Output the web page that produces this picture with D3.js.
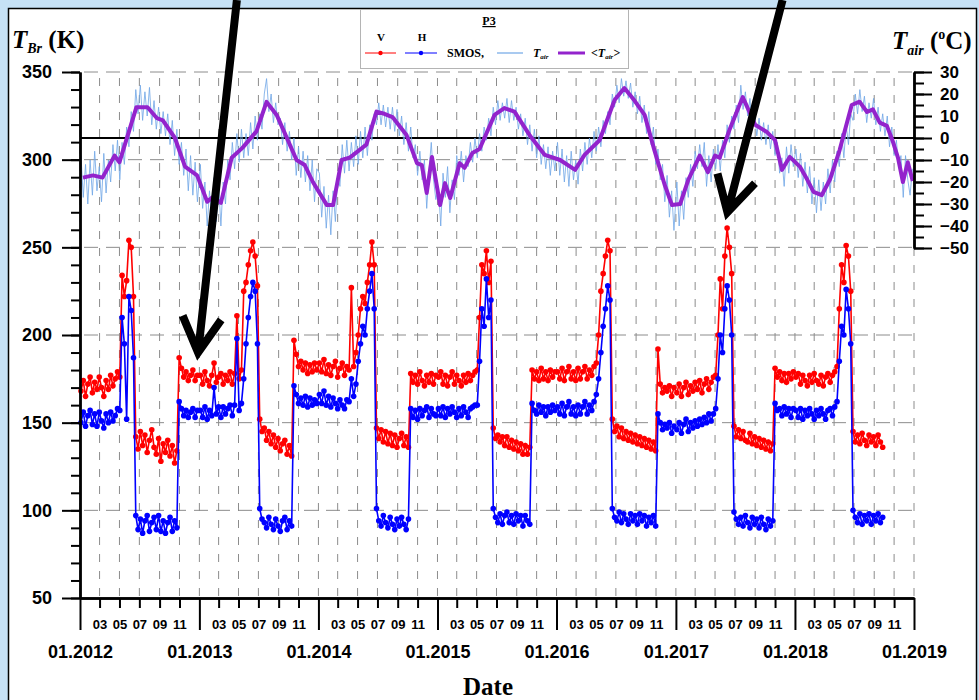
<!DOCTYPE html>
<html>
<head>
<meta charset="utf-8">
<script src="https://cdn.jsdelivr.net/npm/d3@7"></script>
<style>
  body { margin: 0; background: #c6e1f6; }
  svg { display: block; font-family: "Liberation Sans", Arial, sans-serif; }
</style>
</head>
<body>
<svg id="chart" width="979" height="700"></svg>
<script>
// years covered, one row of weekly values per year (week i = 4 Jan + 7*i days)
const years = [2012, 2013, 2014, 2015, 2016, 2017, 2018]

// SMOS brightness temperature, V polarisation (K)
const vWeekly = [
  [168,174,165,172,176,167,173,169,176,170,165,174,169,177,171,175,179,176,234,222,231,254,250,222,142,135,145,137,143,133,140,146,136,132,141,128,138,133,140,131,137,127,134,187,181,176,179,174,177,180,174,177],
  [177,172,179,174,171,177,184,173,176,178,172,177,174,179,172,178,211,175,180,225,230,240,248,253,245,228,152,145,147,140,145,138,143,136,141,134,138,140,132,137,131,197,189,182,185,180,184,178,183,179,184,180],
  [184,179,186,178,183,177,182,185,176,181,184,177,182,180,227,182,190,200,215,222,218,230,240,253,240,147,141,146,139,145,138,144,137,143,136,141,144,137,142,136,178,173,177,172,179,174,171,177,173,178,172,177],
  [176,179,172,177,171,176,179,172,177,174,171,177,173,178,174,177,179,180,210,240,235,248,230,242,147,141,143,139,142,137,142,136,140,135,139,134,138,132,137,132,136,180,175,179,174,181,175,179,174,180,176,179],
  [179,175,181,174,179,182,175,179,174,181,175,179,182,175,180,177,182,184,200,225,235,245,254,248,152,145,148,142,147,141,145,140,144,139,143,138,142,137,141,136,140,135,139,134,192,172,167,170,168,171,165,170],
  [167,172,165,170,173,166,171,168,173,169,174,167,172,175,169,173,176,177,200,232,215,245,261,250,235,148,142,146,141,145,140,139,144,138,142,137,141,136,140,135,139,134,138,181,176,179,174,178,173,178,175,179],
  [176,178,172,177,174,171,177,173,178,174,172,177,171,176,178,173,177,179,182,215,240,230,251,245,225,145,139,143,138,144,140,137,143,139,142,137,143,139,136]
]

// SMOS brightness temperature, H polarisation (K)
const hWeekly = [
  [150,156,148,154,157,149,155,148,156,151,147,155,150,156,151,154,158,157,210,195,152,222,214,187,97,89,95,87,94,97,88,93,96,89,97,88,94,87,93,96,88,94,90,162,158,154,157,153,156,158,153,157],
  [157,153,159,152,157,154,170,155,159,153,159,155,158,160,154,160,198,157,161,175,195,210,222,230,225,195,101,95,93,90,96,92,89,95,91,88,94,96,89,94,91,171,166,161,164,160,165,159,164,160,163,161],
  [166,161,168,160,165,159,164,161,158,163,160,158,163,162,175,165,172,185,195,205,200,215,225,235,215,101,94,91,97,93,90,96,92,89,95,91,96,92,89,95,158,153,157,152,158,154,157,159,153,158,155,154],
  [158,154,159,153,158,155,159,156,153,158,154,159,156,153,158,159,160,160,185,215,205,232,210,220,101,96,93,98,92,97,99,93,97,92,98,94,97,91,97,94,92,161,157,155,160,156,159,154,159,156,160,157],
  [159,155,161,154,159,162,155,159,154,160,155,159,162,155,160,157,162,166,175,190,205,215,228,220,101,96,94,99,93,98,95,92,98,94,97,92,98,94,97,91,96,93,97,91,155,150,146,149,147,150,144,148],
  [146,150,144,149,152,145,150,147,151,148,152,149,153,150,155,151,155,158,175,200,190,215,228,220,200,99,95,92,96,91,97,93,90,96,92,95,90,96,92,89,95,91,94,161,157,158,154,159,155,158,153,158],
  [157,153,158,152,157,154,158,155,152,157,154,158,155,152,157,158,154,159,162,185,205,200,226,215,195,100,96,93,98,92,97,94,98,92,97,94,98,93,96]
]

// air temperature (deg C)
const tairWeekly = [
  [-8,-27,-12,-30,-10,-26,-6,-24,-13,-29,-7,-25,-10,-20,-3,-15,-1,-19,-2,-12,5,-4,12,3,22,11,24,8,21,10,23,6,17,4,14,2,12,1,11,-3,8,-8,4,-12,-2,-17,-5,-24,-8,-26,-11,-29],
  [-12,-32,-20,-40,-24,-36,-18,-38,-21,-40,-20,-30,-10,-19,-2,-14,2,-11,4,-9,2,-8,7,-5,10,-1,11,4,20,27,12,20,7,16,6,9,-3,7,-6,3,-10,0,-17,-4,-18,-6,-20,-8,-24,-10,-29,-14],
  [-16,-36,-22,-41,-26,-44,-24,-38,-17,-22,-3,-16,-1,-15,-2,-13,1,-12,3,-9,5,-8,6,-1,11,6,16,6,15,5,14,4,14,3,13,1,10,-3,7,-6,5,-9,-3,-17,-6,-19,-10,-32,-15,-2,-19,-28],
  [-22,-40,-16,-27,-13,-34,-19,-28,-8,-17,-6,-20,-8,-13,-2,-11,0,-9,2,-6,5,-1,9,1,14,6,17,8,16,9,18,7,17,8,14,4,11,1,9,-3,6,-6,4,-9,1,-12,-3,-14,-4,-17,-6,-15],
  [-2,-17,-5,-20,-8,-22,-6,-19,-10,-21,-5,-15,-2,-12,0,-9,3,-6,5,-4,8,2,12,6,20,14,24,16,27,19,26,18,25,14,21,11,19,7,15,2,12,-3,5,-12,-5,-19,-12,-29,-17,-36,-24,-42],
  [-20,-40,-24,-37,-18,-27,-12,-22,-6,-14,-3,-13,-2,-22,-8,-20,-5,-14,-3,-15,-1,-9,6,-2,10,4,15,7,24,13,21,10,18,4,12,1,9,-1,7,-3,6,-5,3,-8,-2,-16,-9,-22,-4,-16,-3,-13],
  [-5,-18,-7,-22,-11,-25,-13,-30,-18,-34,-19,-33,-20,-30,-14,-25,-10,-20,-6,-13,2,-9,6,-3,11,8,20,11,22,12,19,7,16,9,18,6,14,3,11,1,10,-4,5,-8,-1,-13,-8,-27,-8,-19,-26,-14]
]

// smoothed air temperature <Tair> (deg C)
const tairMean = [
  ["2012-01-10",-18],["2012-02-10",-17],["2012-03-10",-18],["2012-04-16",-8],["2012-05-01",-11],
  ["2012-06-22",14],["2012-07-26",14],["2012-08-24",9],["2012-09-11",8],["2012-10-18",0],
  ["2012-11-18",-13],["2012-12-25",-17],["2013-01-25",-29],["2013-02-10",-27],["2013-03-08",-29.5],
  ["2013-04-10",-9],["2013-05-13",-4.5],["2013-06-25",3],["2013-07-26",16.4],["2013-08-26",10.5],
  ["2013-10-26",-10],["2013-11-20",-12.3],["2013-12-15",-20],["2014-01-27",-30.5],["2014-02-15",-30.5],
  ["2014-03-13",-10],["2014-04-06",-9],["2014-05-28",-3],["2014-06-28",12],["2014-07-22",11],
  ["2014-08-16",9.5],["2014-09-28",1.4],["2014-10-30",-11.4],["2014-11-14",-12.3],["2014-11-29",-25],
  ["2014-12-15",-8.6],["2015-01-09",-30.5],["2015-01-24",-20.5],["2015-02-09",-27.3],["2015-03-10",-11.4],
  ["2015-03-25",-13.6],["2015-04-18",-6.8],["2015-05-10",-5],["2015-06-25",10.5],["2015-07-25",13.6],
  ["2015-08-25",12],["2015-10-10",1.4],["2015-11-26",-7.7],["2016-01-12",-10],["2016-02-27",-14.5],
  ["2016-03-27",-7.7],["2016-05-12",-1],["2016-06-27",17.3],["2016-07-27",22.7],["2016-08-27",17],
  ["2016-09-27",10.5],["2016-10-27",-5.5],["2016-11-27",-21],["2016-12-20",-30.5],["2017-01-14",-30],
  ["2017-02-08",-19],["2017-03-15",-8],["2017-04-09",-15.5],["2017-05-01",-8],["2017-05-15",-9],
  ["2017-06-15",4],["2017-07-25",18.6],["2017-09-01",6],["2017-10-07",2.7],["2017-11-01",-1],
  ["2017-11-22",-14.5],["2017-12-16",-8.6],["2018-01-16",-13],["2018-02-08",-19],["2018-02-27",-24.5],
  ["2018-03-24",-26],["2018-04-18",-19],["2018-05-18",-5.5],["2018-06-24",15],["2018-07-18",16.5],
  ["2018-08-10",11.8],["2018-08-28",13],["2018-09-18",7],["2018-10-10",5.5],["2018-10-28",-1.5],
  ["2018-11-13",-9],["2018-11-28",-20],["2018-12-13",-11],["2018-12-28",-19.5]
]

// tick values
const kTicks = [50, 100, 150, 200, 250, 300, 350]
const tTicks = [-50, -40, -30, -20, -10, 0, 10, 20, 30]
const monthLabels = ["03", "05", "07", "09", "11"]

// annotation arrows: [date, K] of tail and tip
const arrows = [
  { tail: ["2013-04-26", 391], tip: ["2012-12-28", 190] },
  { tail: ["2017-11-24", 391], tip: ["2017-06-08", 270] }
]

/**
 * Build series
 */
const parse = d3.timeParse("%Y-%m-%d")
const weekly = rows => rows.flatMap((row, i) =>
  row.map((val, w) => ({ date: d3.timeDay.offset(new Date(years[i], 0, 4), 7 * w), val })))

const vData = weekly(vWeekly)
const hData = weekly(hWeekly)
const tairData = weekly(tairWeekly)
const meanData = tairMean.map(([d, val]) => ({ date: parse(d), val }))

/**
 * Scales
 */
const svg = d3.select("#chart")
const x = d3.scaleTime()
  .domain([new Date(2012, 0, 1), new Date(2019, 0, 1)])
  .range([80, 914])
const yK = d3.scaleLinear().domain([50, 350]).range([598, 72])
const yT = d3.scaleLinear().domain([-50, 30]).range([248, 72])

// background panel
svg.append("rect").attr("width", 979).attr("height", 700).attr("fill", "#c6e1f6")
svg.append("rect")
  .attr("x", 8.5).attr("y", 8.5).attr("width", 968).attr("height", 720)
  .attr("fill", "#fff").attr("stroke", "#000").attr("stroke-width", 1.5)

/**
 * Grid
 */
const grid = svg.append("g").attr("stroke", "#8c8c8c").attr("stroke-width", 1)

const gridMonths = d3.timeMonth.every(2).range(new Date(2012, 0, 1), new Date(2019, 0, 2))
grid.selectAll(".vgrid")
  .data(gridMonths)
  .enter().append("line")
    .attr("x1", d => x(d)).attr("x2", d => x(d))
    .attr("y1", yK(350) + 6).attr("y2", yK(50))
    .attr("stroke-dasharray", "8,9")

grid.selectAll(".hgrid")
  .data(kTicks.slice(1))
  .enter().append("line")
    .attr("x1", x.range()[0]).attr("x2", x.range()[1])
    .attr("y1", d => yK(d)).attr("y2", d => yK(d))
    .attr("stroke-dasharray", "14,8")
    .attr("stroke-dashoffset", -4)

// 0 deg C line
svg.append("line")
  .attr("x1", x.range()[0]).attr("x2", x.range()[1])
  .attr("y1", yT(0)).attr("y2", yT(0))
  .attr("stroke", "#000").attr("stroke-width", 2)

/**
 * Series
 */
const lineK = d3.line().x(d => x(d.date)).y(d => yK(d.val))
const lineT = d3.line().x(d => x(d.date)).y(d => yT(d.val))

svg.append("path")
  .attr("d", lineT(tairData))
  .attr("fill", "none").attr("stroke", "#6fa6e6")
  .attr("stroke-width", 0.9).attr("stroke-opacity", 0.9)

svg.append("path")
  .attr("d", lineT(meanData))
  .attr("fill", "none").attr("stroke", "#9323cc")
  .attr("stroke-width", 4).attr("stroke-linejoin", "round")

const drawSmos = (data, colour) => {
  const g = svg.append("g")
  g.append("path")
    .attr("d", lineK(data))
    .attr("fill", "none").attr("stroke", colour).attr("stroke-width", 1.6)
  g.selectAll("circle")
    .data(data)
    .enter().append("circle")
      .attr("cx", d => x(d.date)).attr("cy", d => yK(d.val))
      .attr("r", 2.8).attr("fill", colour)
}
drawSmos(vData, "#ff0000")
drawSmos(hData, "#0000ff")

/**
 * Axes
 */
const styleAxis = (g, size) => {
  g.select(".domain").attr("stroke-width", 2.4)
  g.selectAll(".tick line").attr("stroke-width", 2)
  g.selectAll("text").attr("font-weight", "bold").attr("font-size", size).attr("fill", "#000")
}

// left, K
svg.append("g")
  .attr("transform", `translate(${x.range()[0]},0)`)
  .call(d3.axisLeft(yK).tickValues(d3.range(50, 351, 10)).tickSize(9).tickFormat("").tickSizeOuter(0))
  .call(g => styleAxis(g, 18))
svg.append("g")
  .attr("transform", `translate(${x.range()[0]},0)`)
  .call(d3.axisLeft(yK).tickValues(kTicks).tickSize(18).tickPadding(10).tickSizeOuter(0))
  .call(g => styleAxis(g, 18))

// right, deg C
svg.append("g")
  .attr("transform", `translate(${x.range()[1]},0)`)
  .call(d3.axisRight(yT).tickValues(d3.range(-50, 31, 5)).tickSize(10).tickFormat("").tickSizeOuter(0))
  .call(g => styleAxis(g, 17))
svg.append("g")
  .attr("transform", `translate(${x.range()[1]},0)`)
  .call(d3.axisRight(yT).tickValues(tTicks).tickSize(18).tickPadding(8).tickSizeOuter(0))
  .call(g => styleAxis(g, 17))

// bottom, months and years
const monthTicks = d3.timeMonth.range(new Date(2012, 0, 1), new Date(2019, 0, 1))
  .filter(d => monthLabels.includes(d3.timeFormat("%m")(d)))
svg.append("g")
  .attr("transform", `translate(0,${yK(50)})`)
  .call(d3.axisBottom(x).tickValues(monthTicks).tickSize(10).tickPadding(12)
    .tickFormat(d3.timeFormat("%m")).tickSizeOuter(0))
  .call(g => styleAxis(g, 13))
svg.append("g")
  .attr("transform", `translate(0,${yK(50)})`)
  .call(d3.axisBottom(x).tickValues(d3.timeYear.range(new Date(2012, 0, 1), new Date(2019, 0, 2)))
    .tickSize(32).tickPadding(15).tickFormat(d3.timeFormat("01.%Y")).tickSizeOuter(0))
  .call(g => styleAxis(g, 18))

/**
 * Axis titles
 */
const serif = "'Liberation Serif', 'Times New Roman', serif"
const leftTitle = svg.append("text")
  .attr("x", 12).attr("y", 48)
  .attr("font-family", serif).attr("font-weight", "bold").attr("font-size", 25)
leftTitle.append("tspan").attr("font-style", "italic").text("T")
leftTitle.append("tspan").attr("font-style", "italic").attr("font-size", 14).attr("dy", 5).text("Br")
leftTitle.append("tspan").attr("dy", -5).text(" (K)")

const rightTitle = svg.append("text")
  .attr("x", 892).attr("y", 49)
  .attr("font-family", serif).attr("font-weight", "bold").attr("font-size", 25)
rightTitle.append("tspan").attr("font-style", "italic").text("T")
rightTitle.append("tspan").attr("font-style", "italic").attr("font-size", 14).attr("dy", 6).text("air")
rightTitle.append("tspan").attr("dy", -6).text(" (")
rightTitle.append("tspan").attr("font-size", 14).attr("dy", -10).text("o")
rightTitle.append("tspan").attr("dy", 10).text("C)")

svg.append("text")
  .attr("x", 488).attr("y", 695)
  .attr("text-anchor", "middle")
  .attr("font-family", serif).attr("font-weight", "bold").attr("font-size", 25)
  .text("Date")

/**
 * Legend
 */
const legend = svg.append("g").attr("font-family", serif).attr("font-weight", "bold")
legend.append("rect")
  .attr("x", 360.5).attr("y", 9.5).attr("width", 268).attr("height", 59)
  .attr("fill", "#fff").attr("stroke", "#b4b4b4")
legend.append("text").attr("x", 489).attr("y", 25).attr("text-anchor", "middle")
  .attr("font-size", 12).attr("text-decoration", "underline").text("P3")
legend.append("text").attr("x", 381).attr("y", 41).attr("text-anchor", "middle").attr("font-size", 11).text("V")
legend.append("text").attr("x", 422).attr("y", 41).attr("text-anchor", "middle").attr("font-size", 11).text("H")

const legendLine = (x1, x2, colour, width, dot) => {
  legend.append("line").attr("x1", x1).attr("x2", x2).attr("y1", 53).attr("y2", 53)
    .attr("stroke", colour).attr("stroke-width", width)
  if (dot) legend.append("circle").attr("cx", (x1 + x2) / 2).attr("cy", 53).attr("r", 2.2).attr("fill", colour)
}
legendLine(365, 396, "#ff0000", 1, true)
legendLine(405, 437, "#0000ff", 1, true)
legend.append("text").attr("x", 447).attr("y", 57).attr("font-size", 12).text("SMOS,")
legendLine(497, 523, "#6fa6e6", 1.2, false)
const lt1 = legend.append("text").attr("x", 533).attr("y", 57).attr("font-size", 12).attr("font-style", "italic")
lt1.append("tspan").text("T")
lt1.append("tspan").attr("font-size", 7).attr("dy", 2).text("air")
legendLine(558, 585, "#9323cc", 3, false)
const lt2 = legend.append("text").attr("x", 591).attr("y", 57).attr("font-size", 12).attr("font-style", "italic")
lt2.append("tspan").text("<T")
lt2.append("tspan").attr("font-size", 7).attr("dy", 2).text("air")
lt2.append("tspan").attr("dy", -2).text(">")

/**
 * Annotation arrows
 */
arrows.forEach(a => {
  const x0 = x(parse(a.tail[0])), y0 = yK(a.tail[1])
  const x1 = x(parse(a.tip[0])), y1 = yK(a.tip[1])
  const ang = Math.atan2(y0 - y1, x0 - x1)
  const spread = 29 * Math.PI / 180, len = 40
  const p1 = [x1 + len * Math.cos(ang + spread), y1 + len * Math.sin(ang + spread)]
  const p2 = [x1 + len * Math.cos(ang - spread), y1 + len * Math.sin(ang - spread)]
  svg.append("path")
    .attr("d", `M${x0},${y0}L${x1},${y1}M${p1}L${x1},${y1}L${p2}`)
    .attr("fill", "none").attr("stroke", "#000").attr("stroke-width", 8)
    .attr("stroke-linejoin", "miter").attr("stroke-miterlimit", 10)
})
</script>
</body>
</html>
